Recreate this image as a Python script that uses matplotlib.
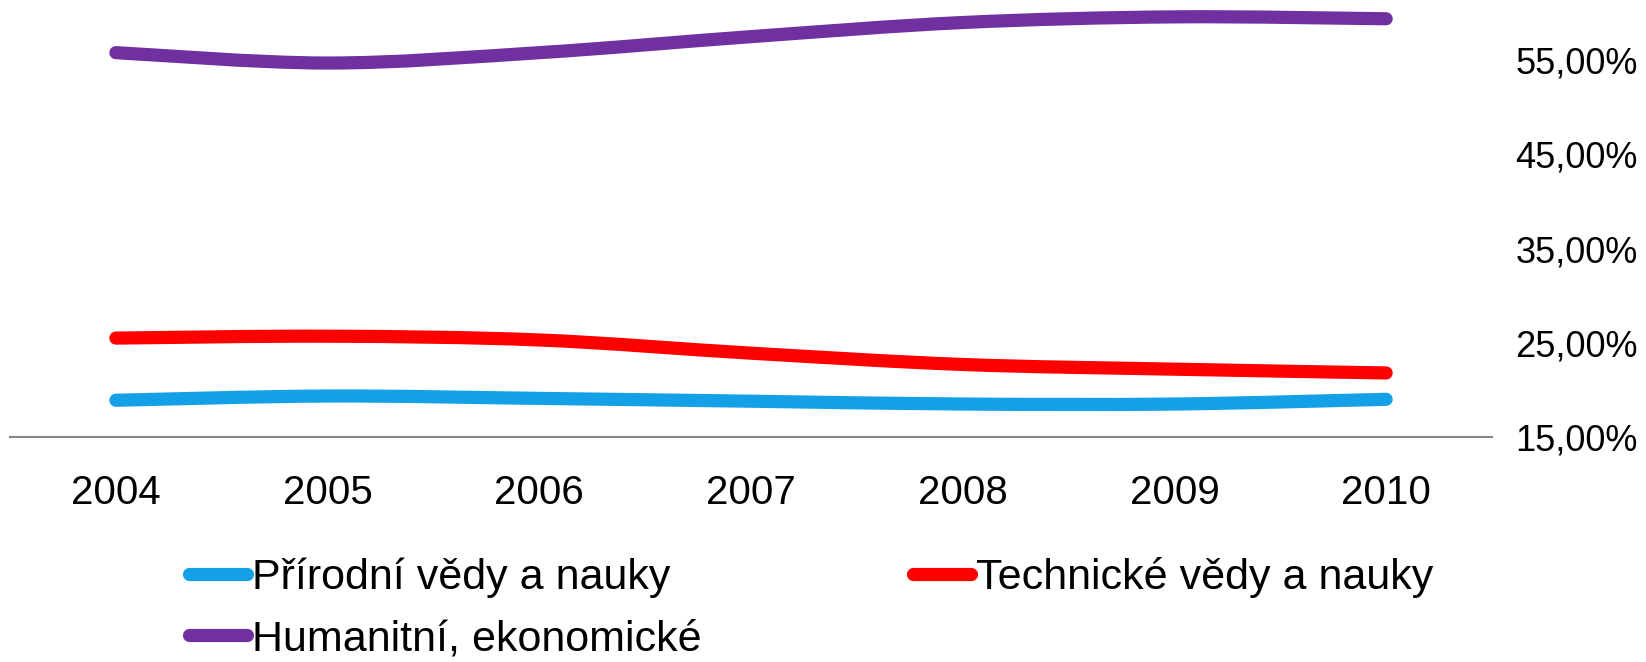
import numpy as np
import matplotlib.pyplot as plt
from matplotlib.path import Path
from matplotlib.patches import PathPatch
from matplotlib.lines import Line2D

years = ["2004", "2005", "2006", "2007", "2008", "2009", "2010"]
prirodni = [18.9, 19.35, 19.1, 18.8, 18.5, 18.5, 19.0]
technicke = [25.5, 25.7, 25.3, 23.9, 22.7, 22.2, 21.8]
humanitni = [55.8, 54.7, 55.8, 57.5, 59.0, 59.6, 59.4]

names = ["Přírodní vědy a nauky", "Technické vědy a nauky", "Humanitní, ekonomické"]
colors = ["#13A0E6", "#FF0000", "#7030A0"]

plt.rcParams['font.family'] = ['Liberation Sans', 'DejaVu Sans']


def smooth_path(xs, ys):
    # bezier segments like excel's smoothed line
    pts = np.column_stack([xs, ys]).astype(float)
    n = len(pts)
    verts = [pts[0]]
    codes = [Path.MOVETO]
    for i in range(n - 1):
        p0 = pts[i - 1] if i > 0 else pts[i]
        p1 = pts[i]
        p2 = pts[i + 1]
        p3 = pts[i + 2] if i + 2 < n else pts[i + 1]
        c1 = p1 + (p2 - p0) / 6.0
        c2 = p2 - (p3 - p1) / 6.0
        verts += [c1, c2, p2]
        codes += [Path.CURVE4] * 3
    return Path(verts, codes)


fig = plt.figure(figsize=(16.46, 6.62), dpi=100)
ax = fig.add_axes([10/1646, 1-437/662, (1492-10)/1646, 437/662])

x = np.arange(len(years))
for vals, c in zip([prirodni, technicke, humanitni], colors):
    p = PathPatch(smooth_path(x, vals), facecolor="none", edgecolor=c,
                  lw=9.5, capstyle="round", joinstyle="round", clip_on=False)
    ax.add_patch(p)

ax.set_xlim(-0.5, 6.5)
ax.set_ylim(15, 15 + 437/9.42)
ax.set_xticks(x)
ax.set_xticklabels(years, fontsize=29)
ax.set_yticks([15, 25, 35, 45, 55])
ax.set_yticklabels(["15,00%", "25,00%", "35,00%", "45,00%", "55,00%"], fontsize=26)
ax.yaxis.tick_right()
ax.tick_params(axis="y", length=0, pad=17)
ax.tick_params(axis="x", length=0, pad=27)
for s in ["top", "left", "right"]:
    ax.spines[s].set_visible(False)
ax.spines["bottom"].set_color("#868686")
ax.spines["bottom"].set_linewidth(1.5)

# legend is filled column by column, so reorder to get the excel row layout
handles = [Line2D([0], [0], color=c, lw=9.5, solid_capstyle="round") for c in colors]
order = [0, 2, 1]
fig.legend([handles[i] for i in order], [names[i] for i in order],
           loc="upper left", bbox_to_anchor=(189/1646, 1-557/662),
           ncol=2, frameon=False, fontsize=31, handlelength=1.35, handletextpad=0.12,
           columnspacing=4.9, labelspacing=0.5, borderpad=0, borderaxespad=0)

fig.savefig("out.png", dpi=100)
